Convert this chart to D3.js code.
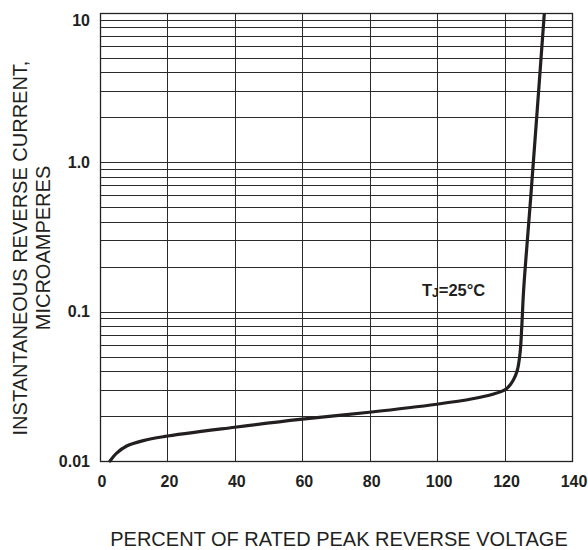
<!DOCTYPE html>
<html><head><meta charset="utf-8">
<script src="https://cdn.jsdelivr.net/npm/d3@7"></script>
<style>body{margin:0;background:#fff}svg{display:block}</style>
</head><body>
<svg id="c" width="588" height="550"></svg>
<script>
const xTicks = [0, 20, 40, 60, 80, 100, 120, 140];
const yTicks = [0.01, 0.1, 1, 10];
const yTickLabels = ["0.01", "0.1", "1.0", "10"];
const curveX = [2.97, 4.95, 7.92, 12.84, 18.9, 39.95, 59.3, 79.9, 99.9, 110.5, 116.5, 120.6, 122.6, 123.8, 124.6, 125.1, 125.6, 126.3, 127.7, 131.8];
const curveY = [0.0100, 0.0113, 0.0126, 0.0137, 0.01455, 0.01682, 0.0190, 0.0212, 0.0240, 0.0261, 0.0280, 0.0305, 0.0349, 0.0407, 0.0529, 0.0790, 0.1334, 0.222, 0.560, 10];
const xTitle = "PERCENT OF RATED PEAK REVERSE VOLTAGE";
const yTitle = ["INSTANTANEOUS REVERSE CURRENT,", "MICROAMPERES"];

const svg = d3.select("#c");
const L = 100, R = 572, T = 13, B = 461;
const x = d3.scaleLinear().domain([0, 140]).range([L, R]);
const y = d3.scaleLog().domain([0.01, 10]).range([B, T]);

// minor horizontal grid
const hLines = [];
[0.01, 0.1, 1].forEach(d => { for (let k = 1; k <= 9; k++) hLines.push(d * k); });
hLines.push(10);
const g = svg.append("g");
g.selectAll("line.h").data(hLines).join("line")
  .attr("x1", L).attr("x2", R)
  .attr("y1", d => Math.round(y(d)) + 0.5).attr("y2", d => Math.round(y(d)) + 0.5)
  .attr("stroke", "#2a2a2a").attr("stroke-width", 1);
g.selectAll("line.v").data(xTicks).join("line")
  .attr("y1", T).attr("y2", B)
  .attr("x1", d => Math.round(x(d)) + 0.5).attr("x2", d => Math.round(x(d)) + 0.5)
  .attr("stroke", "#2a2a2a").attr("stroke-width", 1);
g.append("rect").attr("x", L + 0.5).attr("y", T + 0.5).attr("width", R - L).attr("height", B - T)
  .attr("fill", "none").attr("stroke", "#222").attr("stroke-width", 1.3);

// curve
svg.append("clipPath").attr("id", "clip").append("rect")
  .attr("x", L).attr("y", T).attr("width", R - L).attr("height", B - T + 2);
const pts = curveX.map((v, i) => [v, curveY[i]]);
svg.append("path").datum(pts).attr("d", d3.line().x(d => x(d[0])).y(d => y(d[1])).curve(d3.curveCatmullRom.alpha(0.5)))
  .attr("fill", "none").attr("stroke", "#231f20").attr("stroke-width", 3.2)
  .attr("stroke-linecap", "round").attr("clip-path", "url(#clip)");

// tick labels
const font = "'Liberation Sans', Arial, sans-serif";
svg.selectAll("text.xt").data(xTicks).join("text")
  .attr("x", d => x(d) + 2).attr("y", 487)
  .attr("text-anchor", "middle").attr("font-family", font).attr("font-weight", "bold")
  .attr("font-size", 16).attr("fill", "#231f20").text(d => d);
svg.selectAll("text.yt").data(yTicks).join("text")
  .attr("x", 90).attr("y", d => Math.max(y(d), 20) + 5.5)
  .attr("text-anchor", "end").attr("font-family", font).attr("font-weight", "bold")
  .attr("font-size", 16).attr("fill", "#231f20").text((d, i) => yTickLabels[i]);

// titles
svg.append("text").attr("x", 339).attr("y", 546).attr("text-anchor", "middle")
  .attr("font-family", font).attr("font-size", 20).attr("fill", "#231f20").text(xTitle);
yTitle.forEach((t, i) => {
  svg.append("text").attr("transform", `translate(${27 + i * 23},248) rotate(-90)`)
    .attr("text-anchor", "middle").attr("font-family", font).attr("font-size", 20)
    .attr("fill", "#231f20").text(t);
});

// annotation
const ann = svg.append("text").attr("x", 422).attr("y", 296).attr("font-family", font)
  .attr("font-weight", "bold").attr("font-size", 16.5).attr("fill", "#231f20");
ann.append("tspan").text("T");
ann.append("tspan").attr("font-size", 12).attr("dy", 1).text("J");
ann.append("tspan").attr("dy", -1).text("=25°C");
</script>
</body></html>
